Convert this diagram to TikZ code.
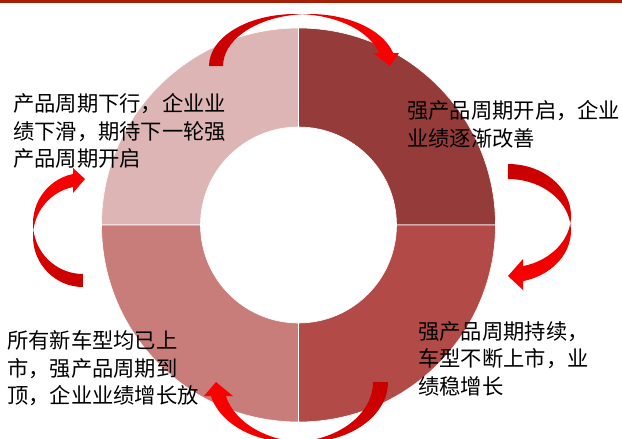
\documentclass[tikz,border=0pt]{standalone}
\usepackage{fontspec}
\newfontfamily\cjk{Noto Sans CJK SC}
\definecolor{topbar}{RGB}{165,30,5}
\definecolor{qTL}{RGB}{221,181,180}
\definecolor{qTR}{RGB}{149,60,58}
\definecolor{qBR}{RGB}{178,75,72}
\definecolor{qBL}{RGB}{201,125,123}
\definecolor{arrdark}{RGB}{200,0,0}
\definecolor{arrbright}{RGB}{255,0,0}
\tikzset{
  quad/.style={draw=white, line width=0.6pt},
  cyclearrow/.style={draw=none},
  lbl/.style={anchor=north west, inner sep=0pt, align=left,
    font=\cjk\fontsize{21.3}{27.5}\selectfont, text=black},
}
\begin{document}
\begin{tikzpicture}[x=1pt,y=-1pt]
\clip (0,0) rectangle (622,439);
\fill[white] (0,0) rectangle (622,439);
\fill[topbar] (0,0) rectangle (622,3);
% ring quadrants (centre 298.5,225; radii 197 / 98)
\path[quad, fill=qTL] (101.5,225) arc[start angle=180, end angle=270, radius=197]
  -- (298.5,127) arc[start angle=270, end angle=180, radius=98] -- cycle;
\path[quad, fill=qTR] (298.5,28) arc[start angle=270, end angle=360, radius=197]
  -- (396.5,225) arc[start angle=360, end angle=270, radius=98] -- cycle;
\path[quad, fill=qBR] (495.5,225) arc[start angle=0, end angle=90, radius=197]
  -- (298.5,323) arc[start angle=90, end angle=0, radius=98] -- cycle;
\path[quad, fill=qBL] (298.5,422) arc[start angle=90, end angle=180, radius=197]
  -- (200.5,225) arc[start angle=180, end angle=90, radius=98] -- cycle;
% curved arrows
\path[cyclearrow, left color=arrdark, right color=arrbright]
  (209,66) arc[start angle=180, end angle=345.5, x radius=86.4, y radius=52]
  -- (373,53) -- (390,66) -- (399,53) -- (393.1,53)
  arc[start angle=345.5, end angle=180, x radius=86.4, y radius=52] -- cycle;
\path[cyclearrow, top color=arrdark, bottom color=arrbright]
  (508,164) arc[start angle=-90, end angle=76.2, x radius=63, y radius=51.8]
  -- (523,259) -- (508,276) -- (523,290) -- (523,281.1)
  arc[start angle=76.2, end angle=-90, x radius=63, y radius=51.8] -- cycle;
\path[cyclearrow, right color=arrdark, left color=arrbright]
  (388,382) arc[start angle=0, end angle=166.5, x radius=82.2, y radius=60]
  -- (233,396) -- (216,382) -- (204,396) -- (210.9,396)
  arc[start angle=166.5, end angle=0, x radius=82.2, y radius=60] -- cycle;
\path[cyclearrow, bottom color=arrdark, top color=arrbright]
  (83,287) arc[start angle=90, end angle=258.5, x radius=50, y radius=50.5]
  -- (73,193) -- (85,179) -- (73,168) -- (73,174)
  arc[start angle=258.5, end angle=90, x radius=50, y radius=50.5] -- cycle;
% texts
\node[lbl] (tl) at (13,93.5) {产品周期下行，企业业\\绩下滑，期待下一轮强\\产品周期开启};
\node[lbl] (tr) at (407,100.5) {强产品周期开启，企业\\业绩逐渐改善};
\node[lbl] (bl) at (7,330.5) {所有新车型均已上\\市，强产品周期到\\顶，企业业绩增长放};
\node[lbl] (br) at (418,321) {强产品周期持续，\\车型不断上市，业\\绩稳增长};
\end{tikzpicture}
\end{document}
